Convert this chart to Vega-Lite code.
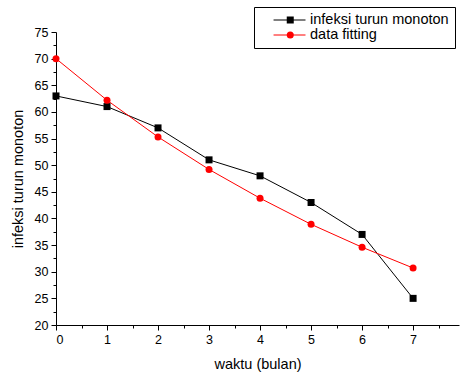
{
  "$schema": "https://vega.github.io/schema/vega-lite/v6.json",
  "width": 403,
  "height": 293,
  "autosize": {"type": "none"},
  "padding": {"left": 56, "top": 32, "right": 1, "bottom": 47},
  "background": "white",
  "config": {
    "view": {"stroke": null},
    "font": "Liberation Sans",
    "axis": {
      "domainColor": "black", "tickColor": "black", "labelColor": "black", "titleColor": "black",
      "grid": false, "labelFont": "Liberation Sans", "titleFont": "Liberation Sans",
      "labelFontSize": 12.5, "titleFontSize": 14.5, "titleFontWeight": "normal",
      "domainWidth": 1, "tickWidth": 1
    }
  },
  "data": {"values": [
    {"t": 0, "v": 63, "s": "infeksi turun monoton"},
    {"t": 1, "v": 61, "s": "infeksi turun monoton"},
    {"t": 2, "v": 57, "s": "infeksi turun monoton"},
    {"t": 3, "v": 51, "s": "infeksi turun monoton"},
    {"t": 4, "v": 48, "s": "infeksi turun monoton"},
    {"t": 5, "v": 43, "s": "infeksi turun monoton"},
    {"t": 6, "v": 37, "s": "infeksi turun monoton"},
    {"t": 7, "v": 25, "s": "infeksi turun monoton"},
    {"t": 0, "v": 70, "s": "data fitting"},
    {"t": 1, "v": 62.2, "s": "data fitting"},
    {"t": 2, "v": 55.3, "s": "data fitting"},
    {"t": 3, "v": 49.2, "s": "data fitting"},
    {"t": 4, "v": 43.8, "s": "data fitting"},
    {"t": 5, "v": 38.9, "s": "data fitting"},
    {"t": 6, "v": 34.6, "s": "data fitting"},
    {"t": 7, "v": 30.7, "s": "data fitting"}
  ]},
  "encoding": {
    "x": {
      "field": "t", "type": "quantitative",
      "scale": {"domain": [0, 7.9], "nice": false, "zero": false},
      "axis": {
        "title": "waktu (bulan)",
        "values": [0, 0.5, 1, 1.5, 2, 2.5, 3, 3.5, 4, 4.5, 5, 5.5, 6, 6.5, 7, 7.5],
        "format": "~g",
        "labelExpr": "datum.value % 1 == 0 ? datum.label : ''",
        "tickSize": {"condition": {"test": "datum.value % 1 == 0", "value": 5}, "value": 3},
        "labelPadding": 3,
        "titlePadding": 12
      }
    },
    "y": {
      "field": "v", "type": "quantitative",
      "scale": {"domain": [20, 75], "nice": false, "zero": false},
      "axis": {
        "title": "infeksi turun monoton",
        "values": [20, 22.5, 25, 27.5, 30, 32.5, 35, 37.5, 40, 42.5, 45, 47.5, 50, 52.5, 55, 57.5, 60, 62.5, 65, 67.5, 70, 72.5, 75],
        "format": "~g",
        "labelExpr": "datum.value % 5 == 0 ? datum.label : ''",
        "tickSize": {"condition": {"test": "datum.value % 5 == 0", "value": 5}, "value": 3},
        "labelPadding": 3,
        "titlePadding": 9
      }
    }
  },
  "layer": [
    {
      "mark": {"type": "line", "strokeWidth": 1},
      "encoding": {
        "color": {
          "field": "s", "type": "nominal",
          "scale": {"domain": ["infeksi turun monoton", "data fitting"], "range": ["#000000", "#ff0000"]},
          "legend": {
            "title": null, "orient": "none", "legendX": 198, "legendY": -25,
            "symbolType": "M-1,0M-0.42,0H1", "symbolSize": 2025, "symbolStrokeWidth": 1,
            "clipHeight": 14, "rowPadding": 0, "padding": 6, "labelOffset": 4,
            "labelFont": "Liberation Sans", "labelFontSize": 14.5, "labelColor": "black",
            "strokeColor": "black", "fillColor": "white"
          }
        }
      }
    },
    {
      "mark": {"type": "point", "filled": true, "size": 49, "opacity": 1},
      "encoding": {
        "color": {
          "field": "s", "type": "nominal",
          "scale": {"domain": ["infeksi turun monoton", "data fitting"], "range": ["#000000", "#ff0000"]},
          "legend": {
            "title": null, "orient": "none", "legendX": 221, "legendY": -25,
            "symbolSize": 49, "clipHeight": 14, "rowPadding": 0, "padding": 6, "labelOffset": 4,
            "labelExpr": "''", "labelFontSize": 14.5
          }
        },
        "shape": {
          "field": "s", "type": "nominal",
          "scale": {"domain": ["infeksi turun monoton", "data fitting"], "range": ["square", "circle"]},
          "legend": {
            "title": null, "orient": "none", "legendX": 221, "legendY": -25,
            "symbolSize": 49, "clipHeight": 14, "rowPadding": 0, "padding": 6, "labelOffset": 4,
            "labelExpr": "''", "labelFontSize": 14.5
          }
        }
      }
    }
  ],
  "resolve": {"legend": {"color": "independent", "shape": "independent"}}
}
